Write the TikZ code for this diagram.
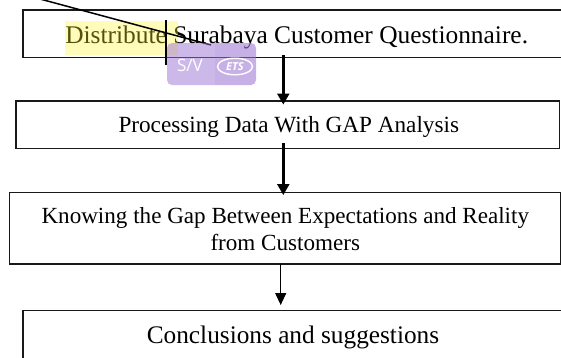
\documentclass[tikz,border=0pt]{standalone}
\usepackage{fontspec}
\setmainfont{Liberation Serif}
\newfontfamily\wmfont{Open Sans}
\usetikzlibrary{arrows.meta}
\definecolor{boxline}{RGB}{25,25,25}
\definecolor{hlyellow}{RGB}{255,244,40}
\definecolor{wmpurple}{RGB}{157,117,213}
\tikzset{
  boxst/.style={draw=boxline, line width=1.6pt, rectangle, inner sep=0pt, outer sep=0pt},
  txt/.style={inner sep=0pt, outer sep=0pt, anchor=base, text=black},
  bigarr/.style={line width=2.4pt, -{Triangle[length=11pt,width=12pt]}},
  thinarr/.style={line width=1.1pt, -{Triangle[length=12pt,width=11pt]}},
}
\begin{document}
\begin{tikzpicture}[x=1pt,y=-1pt]
\useasboundingbox[fill=white] (0,0) rectangle (561,357);
\clip (0,0) rectangle (561,357);

% boxes
\node[boxst, minimum width=577.3pt, minimum height=47.5pt] (b1) at (311.35,33.75) {};
\node[boxst, minimum width=543.5pt, minimum height=47.6pt] (b2) at (287.75,124.5) {};
\node[boxst, minimum width=551pt, minimum height=71.7pt] (b3) at (284.8,228.15) {};
\node[boxst, minimum width=577.3pt, minimum height=69.7pt] (b4) at (311.35,345.15) {};

% texts
\node[txt, font=\fontsize{25.4}{30}\selectfont] (t1) at (296.7,43.3) {Distribute Surabaya Customer Questionnaire.};
\node[txt, font=\fontsize{23.2}{28}\selectfont] (t2) at (288.8,132.0) {Processing Data With GAP Analysis};
\node[txt, font=\fontsize{23.1}{28}\selectfont] (t3a) at (285.3,223.3) {Knowing the Gap Between Expectations and Reality};
\node[txt, font=\fontsize{23.1}{28}\selectfont] (t3b) at (285.3,250.7) {from Customers};
\node[txt, font=\fontsize{25.3}{30}\selectfont] (t4) at (293.0,343.3) {Conclusions and suggestions};

% highlight over "Distribute"
\fill[hlyellow, opacity=0.33] (65,21) rectangle (178,55);

% connectors
\coordinate (xa) at (283.3,0);
\coordinate (xc) at (280.7,0);
\draw[bigarr, shorten <=-2.5pt, shorten >=-3.8pt] (b1.south -| xa) -- (b2.north -| xa);
\draw[bigarr, shorten <=-5pt, shorten >=-2.7pt] (b2.south -| xa) -- (b3.north -| xa);
\draw[thinarr, shorten >=5.3pt] (b3.south -| xc) -- (b4.north -| xc);

% stray pen stroke
\draw[line width=1.5pt, black] (40,-1) -- (211,45);

% watermark badge
\fill[wmpurple, opacity=0.5, rounded corners=5pt] (167,43) rectangle (256,85);
\begin{scope}
\clip[rounded corners=5pt] (167,43) rectangle (256,85);
\fill[wmpurple, opacity=0.12] (215,43) rectangle (256,85);
\end{scope}

% cursor line
\draw[line width=1.5pt, black] (166,20) -- (166,65);

% watermark text
\node[inner sep=0pt, text=white, font=\wmfont\fontsize{17}{18}\selectfont] (sv) at (190,65.5) {S/V};
\draw[white, line width=1.4pt] (235,66.5) ellipse [x radius=17.5pt, y radius=8.3pt];
\node[inner sep=0pt, text=white, font=\wmfont\bfseries\itshape\fontsize{11}{12}\selectfont] (ets) at (235,66.8) {ETS};
\end{tikzpicture}
\end{document}
